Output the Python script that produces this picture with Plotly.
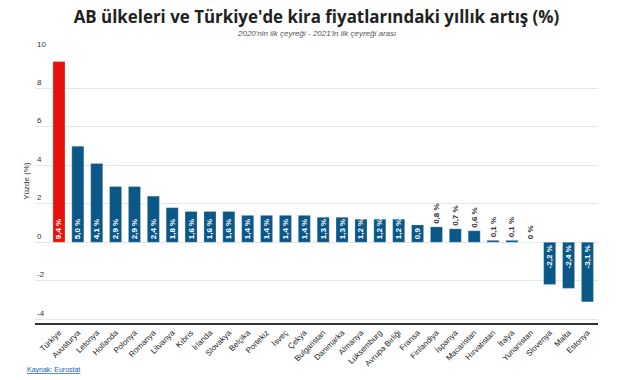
import plotly.graph_objects as go

countries = ["Türkiye", "Avusturya", "Letonya", "Hollanda", "Polonya", "Romanya", "Litvanya",
             "Kıbrıs", "İrlanda", "Slovakya", "Belçika", "Portekiz", "İsveç", "Çekya",
             "Bulgaristan", "Danimarka", "Almanya", "Lüksemburg", "Avrupa Birliği", "Fransa",
             "Finlandiya", "İspanya", "Macaristan", "Hırvatistan", "İtalya", "Yunanistan",
             "Slovenya", "Malta", "Estonya"]
values = [9.4, 5.0, 4.1, 2.9, 2.9, 2.4, 1.8, 1.6, 1.6, 1.6, 1.4, 1.4, 1.4, 1.4,
          1.3, 1.3, 1.2, 1.2, 1.2, 0.9, 0.8, 0.7, 0.6, 0.1, 0.1, 0.0, -2.2, -2.4, -3.1]
value_labels = ["9,4 %", "5,0 %", "4,1 %", "2,9 %", "2,9 %", "2,4 %", "1,8 %", "1,6 %", "1,6 %",
                "1,6 %", "1,4 %", "1,4 %", "1,4 %", "1,4 %", "1,3 %", "1,3 %", "1,2 %", "1,2 %",
                "1,2 %", "0,9", "0,8 %", "0,7 %", "0,6 %", "0,1 %", "0,1 %", "0 %",
                "-2,2 %", "-2,4 %", "-3,1 %"]
y_ticks = [-4, -2, 0, 2, 4, 6, 8, 10]

NAVY = "#0b5788"
RED = "#e8120c"
colors = [RED if c == "Türkiye" else NAVY for c in countries]
positions = ["outside" if 0 <= v < 0.9 else "inside" for v in values]
text_colors = ["#333333" if p == "outside" else "white" for p in positions]

fig = go.Figure()
fig.add_trace(go.Bar(
    x=countries, y=values, text=value_labels,
    textposition=positions, insidetextanchor="start", textangle=-90,
    constraintext="none", cliponaxis=False,
    textfont=dict(family="Liberation Sans, Arial", size=8, color=text_colors, weight="bold"),
    marker=dict(color=colors, line=dict(color="rgba(255,255,255,0.5)", width=0.5)),
    hoverinfo="x+y",
))

tick_annotations = [
    dict(text=str(t), xref="paper", yref="y", x=0, y=t, yshift=6,
         xanchor="left", yanchor="middle", showarrow=False,
         font=dict(size=8, color="#333333"))
    for t in y_ticks
]

fig.update_layout(
    width=619, height=380,
    margin=dict(l=35, r=21, t=50, b=57, autoexpand=False),
    paper_bgcolor="white", plot_bgcolor="white",
    bargap=0.36, showlegend=False,
    font=dict(family="Liberation Sans, Arial", color="#333333"),
    title=dict(
        text="AB ülkeleri ve Türkiye'de kira fiyatlarındaki yıllık artış (%)",
        font=dict(family="Open Sans", size=16.9, color="#222222", weight="bold"),
        x=(35 + 598) / 2 / 619, xanchor="center", y=1 - 17 / 380, yanchor="middle",
    ),
    xaxis=dict(
        range=[-1.27, 28.56], tickangle=-45, showgrid=False, automargin=False,
        showline=True, linecolor="#333333", linewidth=2, ticks="",
        tickfont=dict(size=8, color="#222222", family="Liberation Sans, Arial"),
    ),
    yaxis=dict(
        range=[-4.2, 10], tickvals=y_ticks, showticklabels=False,
        showgrid=True, gridcolor="#e6e6e6", gridwidth=1, automargin=False,
        zeroline=True, zerolinecolor="#e6e6e6", zerolinewidth=1,
        showline=False, ticks="",
    ),
    annotations=tick_annotations + [
        dict(text="2020'nin ilk çeyreği - 2021'in ilk çeyreği arası",
             xref="paper", yref="paper", x=0.5, y=1 + (50 - 33) / 273,
             xanchor="center", yanchor="middle", showarrow=False,
             font=dict(size=8, color="#555555", style="italic")),
        dict(text="Yüzde (%)", xref="paper", yref="y", x=-8 / 563, y=3.2,
             textangle=-90, xanchor="center", yanchor="middle", showarrow=False,
             font=dict(size=8, color="#333333")),
        dict(text="<u>Kaynak: Eurostat</u>", xref="paper", yref="paper",
             x=-10 / 563, y=-(370 - 323) / 273, xanchor="left", yanchor="middle",
             showarrow=False, font=dict(size=7, color="#1a5fa8")),
    ],
)

fig.write_html("out.html", config={"displayModeBar": False},
               post_script="document.body.style.margin='0';")
